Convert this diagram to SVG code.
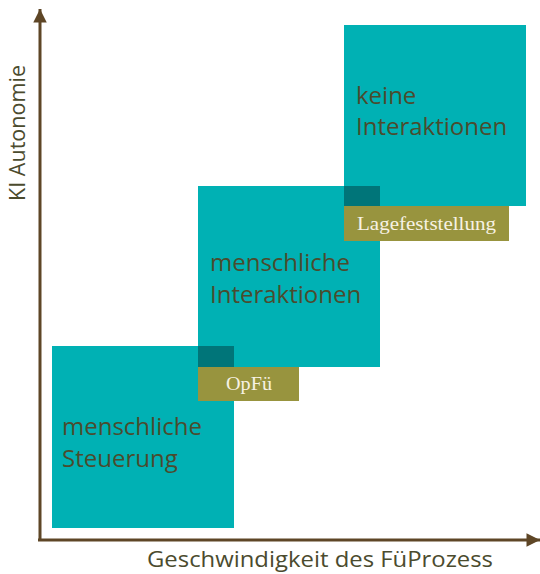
<svg xmlns="http://www.w3.org/2000/svg" width="540" height="574" viewBox="0 0 540 574">
<defs>
<style>
.box{fill:#00B1B4}
.ov{fill:#007579}
.tag{fill:#98943E}
.t{font-family:"Open Sans",sans-serif;font-size:24px;fill:#4B4B2E}
.ax{font-family:"Open Sans",sans-serif;font-size:22px;fill:#4B4B2E}
.lt{font-family:"Liberation Serif",serif;font-size:19px;fill:#F7F2E4}
.axis{stroke:#5E4626;stroke-width:3;fill:none}
</style>
<marker id="ah" viewBox="0 0 10 10" refX="10" refY="5" markerWidth="5.5" markerHeight="4.5" orient="auto" markerUnits="strokeWidth">
<path d="M0,0 L10,5 L0,10 z" fill="#5E4626"/>
</marker>
</defs>
<rect width="540" height="574" fill="#fff"/>
<g id="connectors">
<path class="axis" d="M40,540 L40,9" marker-end="url(#ah)"/>
<path class="axis" d="M38,540 L540,540" marker-end="url(#ah)"/>
</g>
<g id="n1">
<rect class="box" x="52" y="346" width="182" height="182"/>
<text class="t" x="62" y="435">menschliche</text>
<text class="t" x="62" y="467">Steuerung</text>
</g>
<g id="n2">
<rect class="box" x="198" y="186" width="182" height="181"/>
<rect class="ov" x="198" y="346" width="36" height="21"/>
<text class="t" x="210" y="271">menschliche</text>
<text class="t" x="210" y="303">Interaktionen</text>
</g>
<g id="n3">
<rect class="box" x="344" y="25" width="182" height="181"/>
<rect class="ov" x="344" y="186" width="36" height="20"/>
<text class="t" x="356" y="104">keine</text>
<text class="t" x="356" y="135">Interaktionen</text>
</g>
<g id="opfu">
<rect class="tag" x="198" y="367" width="101" height="34"/>
<text class="lt" x="249" y="390" text-anchor="middle" textLength="46" lengthAdjust="spacingAndGlyphs">OpFü</text>
</g>
<g id="lage">
<rect class="tag" x="344" y="206" width="165" height="35"/>
<text class="lt" x="426.5" y="230" text-anchor="middle" textLength="139" lengthAdjust="spacingAndGlyphs">Lagefeststellung</text>
</g>
<g id="labels">
<text class="ax" x="320" y="567" text-anchor="middle" textLength="346" lengthAdjust="spacingAndGlyphs">Geschwindigkeit des FüProzess</text>
<text class="ax" transform="translate(25,133) rotate(-90)" text-anchor="middle" textLength="136" lengthAdjust="spacingAndGlyphs">KI Autonomie</text>
</g>
</svg>
